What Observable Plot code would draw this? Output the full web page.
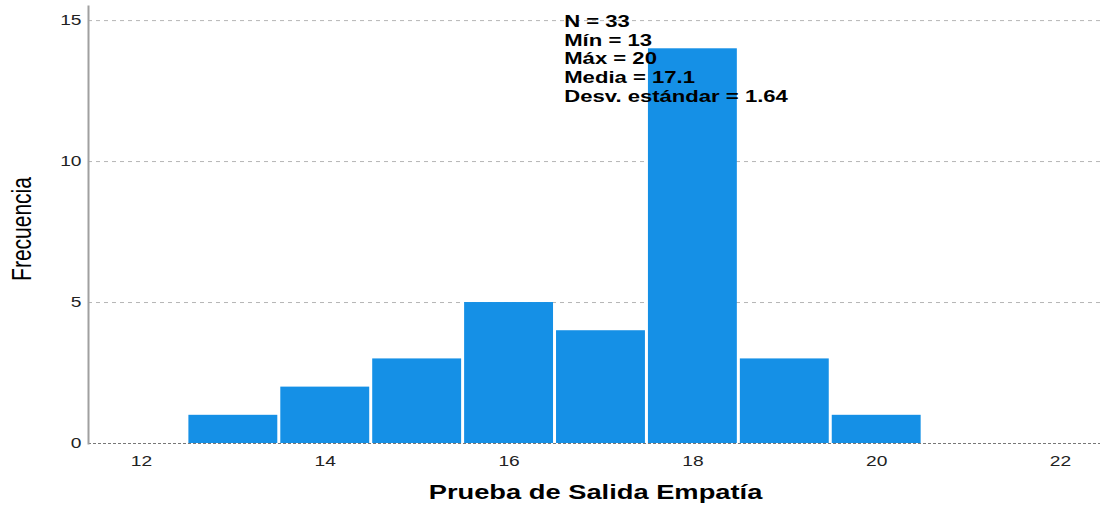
<!DOCTYPE html>
<html><head><meta charset="utf-8">
<script src="https://cdn.jsdelivr.net/npm/d3@7"></script>
<script src="https://cdn.jsdelivr.net/npm/@observablehq/plot@0.6"></script>
<style>body{margin:0;background:#fff;font-family:"Liberation Sans",Arial,sans-serif}</style>
</head><body><div id="chart"></div>
<script>
const scores = [13, 14, 15, 16, 17, 18, 19, 20];
const counts = [1, 2, 3, 5, 4, 14, 3, 1];
const yTicks = [0, 5, 10, 15];
const xTicks = [12, 14, 16, 18, 20, 22];
const statsLines = ["N = 33", "Mín = 13", "Máx = 20", "Media = 17.1", "Desv. estándar = 1.64"];
const statsAt = {x: 16.6, y: 15.25};
const binWidth = 1;
const bars = scores.map((s, i) => ({x1: s - binWidth / 2, x2: s + binWidth / 2, count: counts[i]}));

const chart = Plot.plot({
  width: 1100,
  height: 513,
  marginLeft: 88,
  marginRight: 0,
  marginTop: 6,
  marginBottom: 70,
  style: {fontFamily: "'Liberation Sans', Arial, sans-serif", fontSize: "15px", color: "#222", background: "#fff"},
  x: {domain: [11.424, 22.435]},
  y: {domain: [0, 15.5]},
  marks: [
    Plot.gridY(yTicks.filter(d => d > 0), {stroke: "#b5b5b5", strokeOpacity: 1, strokeDasharray: "4,4"}),
    Plot.ruleY([0], {stroke: "#777", strokeDasharray: "3,2", strokeWidth: 1.2}),
    Plot.rectY(bars, {x1: "x1", x2: "x2", y: "count", fill: "#1590e6", insetLeft: 1.5, insetRight: 1.5}),
    Plot.frame({anchor: "left", stroke: "#a0a0a0", strokeWidth: 2}),
    Plot.axisY(yTicks, {tickSize: 0, tickPadding: 7, label: null, fontSize: 15}),
    Plot.axisX(xTicks, {tickSize: 0, tickPadding: 12, label: null, fontSize: 15}),
    Plot.text([statsLines.join("\n")], {x: () => statsAt.x, y: () => statsAt.y, textAnchor: "start", lineAnchor: "top", lineHeight: 1.1, fontSize: 17, fontWeight: "bold", fill: "#000"}),
    Plot.text(["Frecuencia"], {frameAnchor: "left", textAnchor: "middle", rotate: -90, dx: -66, dy: 4, fontSize: 21, fill: "#000"}),
    Plot.text(["Prueba de Salida Empatía"], {frameAnchor: "bottom", dy: 55, dx: 1, fontSize: 21, fontWeight: "bold", fill: "#000"})
  ]
});
// the reference image is horizontally stretched: widen glyphs around their anchors
const svg = d3.select(chart);
function stretch(sel, k) {
  sel.each(function () {
    const t = this.getAttribute("transform") || "";
    const m = t.match(/translate\(([^)]*)\)/);
    const rest = t.replace(/translate\([^)]*\)/, "").trim();
    if (m) this.setAttribute("transform", `translate(${m[1]}) scale(${k},1) ${rest}`);
    else {
      const x = +this.getAttribute("x") || 0, y = +this.getAttribute("y") || 0;
      this.setAttribute("transform", `translate(${x},${y}) scale(${k},1) translate(${-x},${-y}) ${t}`);
    }
  });
}
stretch(svg.selectAll('g[aria-label="x-axis tick label"] text, g[aria-label="y-axis tick label"] text'), 1.28);
const textMarks = svg.selectAll('g[aria-label="text"]').nodes();
[1.3, 1.3, 1.3].forEach((k, i) => stretch(d3.select(textMarks[i]).selectAll("text"), k));
document.getElementById("chart").appendChild(chart);
</script>
</body></html>
